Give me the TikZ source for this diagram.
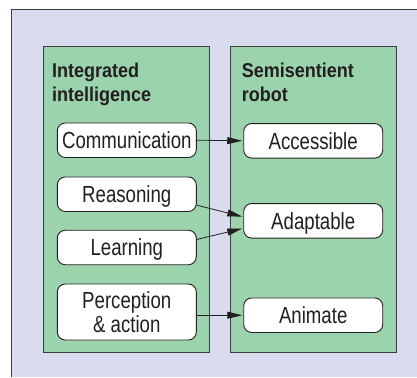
\documentclass[tikz,border=0pt]{standalone}
\usepackage{fontspec}
\usetikzlibrary{arrows.meta,calc}
\newfontfamily\condreg[FakeStretch=0.80]{Liberation Sans}
\newfontfamily\condbold[FakeStretch=0.90]{Liberation Sans Bold}
\definecolor{lav}{HTML}{D9DCEE}
\definecolor{grn}{HTML}{9BD3AD}
\definecolor{edge}{HTML}{3C3C3C}
\definecolor{ink}{HTML}{231F20}
\tikzset{
  panel/.style={draw=edge, line width=0.9pt, fill=grn},
  boxnode/.style={draw=ink, line width=0.9pt, fill=white, rounded corners=8pt,
    minimum width=139pt, minimum height=34.5pt, inner sep=0pt,
    font=\condreg\fontsize{23.3}{23.4}\selectfont, text=ink,
    text height=16.7pt, text depth=0pt, align=center},
  titlenode/.style={anchor=base west, inner sep=0pt,
    font=\condbold\fontsize{20}{23.5}\selectfont, text=ink},
  arr/.style={draw=ink, line width=0.8pt, -{Triangle[length=15pt,width=7pt]}, shorten >=1pt}
}
\begin{document}
\begin{tikzpicture}[x=1pt,y=-1pt]
\useasboundingbox (0,0) rectangle (417,377);
\fill[lav] (11,9) rectangle (417,377);
\draw[edge, line width=0.9pt] (11,377) -- (11,9) -- (417,9);
\draw[panel] (43.3,46) rectangle (209.3,352.7);
\draw[panel] (230,46) rectangle (396,352.7);
\node[titlenode] (t1) at (52,78) {\vtop{\hbox{Integrated}\hbox{intelligence}}};
\node[titlenode] (t2) at (241.7,78) {\vtop{\hbox{Semisentient}\hbox{robot}}};
\node[boxnode] (comm) at (126.8,140.2) {Communication};
\node[boxnode] (reas) at (126.8,194.2) {Reasoning};
\node[boxnode] (learn) at (126.8,247.5) {Learning};
\node[boxnode, minimum height=56pt, text height=40.1pt] (perc) at (126.8,312) {Perception\\ \& action};
\node[boxnode] (acc) at (313.2,140.8) {Accessible};
\node[boxnode] (adapt) at (313.2,220.8) {Adaptable};
\node[boxnode] (anim) at (313.2,315.2) {Animate};
\draw[arr] (comm.east) -- (acc.west);
\draw[arr] ([yshift=-11pt]reas.east) -- ([yshift=4pt]adapt.west);
\draw[arr] ([yshift=8pt]learn.east) -- ([yshift=-7.5pt]adapt.west);
\draw[arr] (perc.east |- anim.west) -- (anim.west);
\end{tikzpicture}
\end{document}
